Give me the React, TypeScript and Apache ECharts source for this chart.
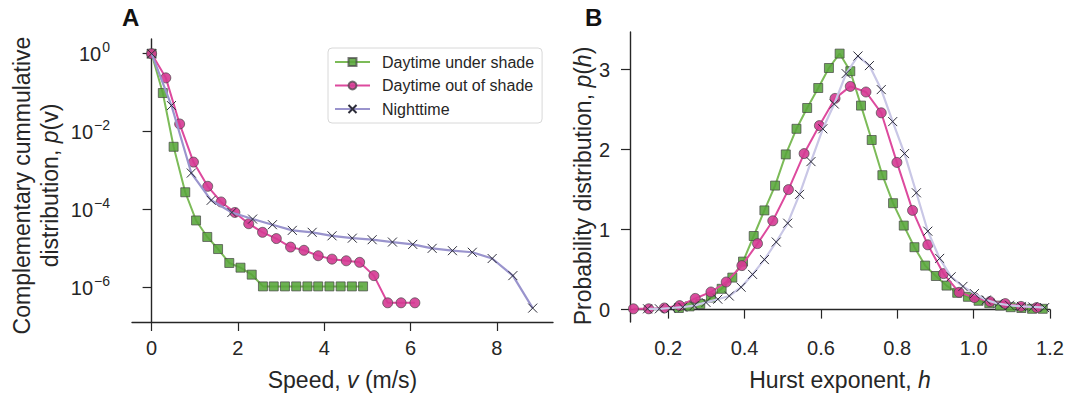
import React, { useEffect, useRef } from 'react';
import * as echarts from 'echarts';

// ---------- Panel A: complementary cumulative distribution of speed ----------
const speedShade = [0, 0.26, 0.51, 0.78, 1.03, 1.29, 1.54, 1.8, 2.06, 2.32, 2.58, 2.83, 3.09, 3.35, 3.61, 3.86, 4.12, 4.38, 4.64, 4.9];
const ccdfShade = [1, 0.098, 4.1e-3, 2.8e-4, 5.3e-5, 2.0e-5, 9.8e-6, 4.3e-6, 3.26e-6, 2.16e-6, 1.08e-6, 1.08e-6, 1.08e-6, 1.08e-6, 1.08e-6, 1.08e-6, 1.08e-6, 1.08e-6, 1.08e-6, 1.08e-6];

const speedSun = [0, 0.33, 0.65, 0.97, 1.3, 1.61, 1.93, 2.25, 2.57, 2.89, 3.22, 3.53, 3.86, 4.18, 4.51, 4.82, 5.15, 5.47, 5.78, 6.1];
const ccdfSun = [1, 0.24, 0.0158, 1.66e-3, 3.98e-4, 1.58e-4, 8.5e-5, 4.37e-5, 2.63e-5, 1.82e-5, 1.1e-5, 9.1e-6, 6.6e-6, 5.4e-6, 4.9e-6, 4.47e-6, 2.04e-6, 4.1e-7, 4.1e-7, 4.1e-7];

const speedNight = [0, 0.46, 0.92, 1.38, 1.86, 2.34, 2.8, 3.26, 3.72, 4.18, 4.65, 5.11, 5.58, 6.05, 6.5, 6.97, 7.43, 7.89, 8.37, 8.83];
const ccdfNight = [1, 0.0468, 8.7e-4, 1.74e-4, 8.5e-5, 5.75e-5, 4.12e-5, 2.95e-5, 2.63e-5, 2.14e-5, 1.86e-5, 1.7e-5, 1.48e-5, 1.29e-5, 1.02e-5, 8.9e-6, 8.1e-6, 5.6e-6, 2.04e-6, 3.0e-7];

// ---------- Panel B: distribution of Hurst exponent ----------
const hurstShade = [0.228, 0.256, 0.284, 0.312, 0.34, 0.368, 0.396, 0.424, 0.452, 0.48, 0.508, 0.536, 0.564, 0.593, 0.621, 0.649, 0.677, 0.705, 0.733, 0.761, 0.789, 0.817, 0.845, 0.873, 0.901, 0.929, 0.957, 0.985, 1.013, 1.041, 1.069, 1.097, 1.125, 1.153, 1.181];
const pdfShade = [0.02, 0.04, 0.07, 0.15, 0.26, 0.4, 0.6, 0.92, 1.24, 1.55, 1.94, 2.26, 2.52, 2.77, 3.02, 3.2, 2.98, 2.55, 2.12, 1.68, 1.33, 1.05, 0.78, 0.55, 0.42, 0.3, 0.21, 0.16, 0.11, 0.08, 0.05, 0.03, 0.02, 0.01, 0.01];

const hurstSun = [0.109, 0.149, 0.19, 0.23, 0.271, 0.312, 0.352, 0.393, 0.434, 0.474, 0.515, 0.556, 0.596, 0.637, 0.677, 0.718, 0.758, 0.799, 0.84, 0.88, 0.921, 0.962, 1.002, 1.043, 1.083, 1.124, 1.165];
const pdfSun = [0.01, 0.01, 0.02, 0.05, 0.14, 0.22, 0.345, 0.55, 0.825, 1.11, 1.5, 1.95, 2.3, 2.64, 2.79, 2.72, 2.46, 1.84, 1.24, 0.81, 0.45, 0.216, 0.15, 0.1, 0.075, 0.04, 0.025];

const hurstNight = [0.146, 0.177, 0.207, 0.238, 0.268, 0.299, 0.33, 0.36, 0.391, 0.421, 0.452, 0.483, 0.513, 0.544, 0.574, 0.605, 0.635, 0.666, 0.697, 0.727, 0.758, 0.788, 0.819, 0.85, 0.88, 0.911, 0.941, 0.972, 1.002, 1.033, 1.064, 1.094, 1.125, 1.155, 1.186];
const pdfNight = [0.01, 0.01, 0.02, 0.03, 0.05, 0.09, 0.13, 0.17, 0.28, 0.44, 0.625, 0.845, 1.08, 1.44, 1.85, 2.26, 2.57, 2.95, 3.17, 3.05, 2.75, 2.35, 1.95, 1.46, 0.98, 0.64, 0.41, 0.29, 0.2, 0.12, 0.075, 0.054, 0.04, 0.033, 0.025];

const seriesNames = ['Daytime under shade', 'Daytime out of shade', 'Nighttime'];
const logTicks = [1e-6, 1e-4, 1e-2, 1];
const speedTicks = [0, 2, 4, 6, 8];
const probTicks = [0, 1, 2, 3];
const hurstTicks = [0.2, 0.4, 0.6, 0.8, 1.0, 1.2];

const FONT = '"Liberation Sans", Arial, Helvetica, sans-serif';
const INK = '#262626';
const GREEN_LINE = '#7cbb58';
const GREEN_FILL = 'rgba(88,165,58,0.88)';
const PINK_LINE = '#dd4a9e';
const PINK_FILL = 'rgba(212,58,146,0.9)';
const PURPLE_LINE_A = '#9a94cd';
const PURPLE_LINE_B = '#c9c7e6';
const X_SYMBOL = 'path://M0,0L10,10M10,0L0,10';

const zip = (xs: number[], ys: number[]) => xs.map((x, i) => [x, ys[i]]);

export default function App() {
  const ref = useRef<HTMLDivElement>(null);
  useEffect(() => {
    if (!ref.current) return;
    const chart = echarts.init(ref.current, null, { renderer: 'svg' });

    const axisLine = { show: true, lineStyle: { color: INK, width: 1.4 } };
    const tickStyle = { color: INK, width: 1.2 };
    const labelRich = {
      b: { fontSize: 20, fontFamily: FONT, color: INK },
      s: { fontSize: 14, fontFamily: FONT, color: INK, padding: [0, 0, 14, 1] },
    };
    const NAME_SIZE = 23;
    const italic = { fontSize: NAME_SIZE, fontFamily: FONT, color: INK, fontStyle: 'italic' };

    const squareItem = { color: GREEN_FILL, borderColor: 'rgba(70,70,70,0.7)', borderWidth: 1 };
    const circleItem = { color: PINK_FILL, borderColor: 'rgba(70,70,70,0.7)', borderWidth: 1 };
    const crossItem = { color: 'rgba(0,0,0,0)', borderColor: '#2d2d3a', borderWidth: 1 };

    const option: any = {
      animation: false,
      backgroundColor: '#ffffff',
      textStyle: { fontFamily: FONT },
      grid: [
        { left: 132, top: 39, width: 421, height: 283 },
        { left: 630, top: 32, width: 420, height: 290 },
      ],
      legend: {
        data: seriesNames,
        orient: 'vertical',
        left: 328,
        top: 48,
        padding: [6, 8, 6, 6],
        itemGap: 7.5,
        itemWidth: 35,
        itemHeight: 10,
        borderColor: '#d8d8d8',
        borderWidth: 1,
        borderRadius: 4,
        textStyle: { fontSize: 16, fontFamily: FONT, color: INK, padding: [0, 0, 0, 7] },
      },
      graphic: [
        { type: 'text', left: 122, top: 5, style: { text: 'A', fontSize: 24, fontWeight: 'bold', fontFamily: FONT, fill: '#111' } },
        { type: 'text', left: 585, top: 5, style: { text: 'B', fontSize: 24, fontWeight: 'bold', fontFamily: FONT, fill: '#111' } },
      ],
      xAxis: [
        {
          type: 'value', gridIndex: 0, min: -0.454, max: 9.3,
          name: 'Speed, {i|v} (m/s)', nameLocation: 'middle', nameGap: 46,
          nameTextStyle: { fontSize: NAME_SIZE, fontFamily: FONT, color: INK, rich: { i: italic } },
          axisLine,
          axisTick: { show: true, length: 9, lineStyle: tickStyle, customValues: speedTicks },
          axisLabel: { fontSize: 20, color: INK, margin: 16, fontFamily: FONT, customValues: speedTicks },
          splitLine: { show: false },
        },
        {
          type: 'value', gridIndex: 1, min: 0.1, max: 1.2,
          name: 'Hurst exponent, {i|h}', nameLocation: 'middle', nameGap: 46,
          nameTextStyle: { fontSize: NAME_SIZE, fontFamily: FONT, color: INK, rich: { i: italic } },
          axisLine,
          axisTick: { show: true, length: 9, lineStyle: tickStyle, customValues: hurstTicks },
          axisLabel: {
            fontSize: 20, color: INK, margin: 16, fontFamily: FONT, customValues: hurstTicks,
            formatter: (v: number) => v.toFixed(1),
          },
          splitLine: { show: false },
        },
      ],
      yAxis: [
        {
          type: 'log', gridIndex: 0, logBase: 10, min: 1.32e-7, max: 2.38,
          name: 'Complementary cummulative\ndistribution, {i|p}(v)', nameLocation: 'middle', nameGap: 68, nameRotate: 90,
          nameTextStyle: {
            fontSize: NAME_SIZE, fontFamily: FONT, color: INK, lineHeight: 28, padding: [0, 10, 0, 0],
            rich: { i: { ...italic, lineHeight: 28 } },
          },
          axisLine,
          axisTick: { show: true, length: 9, lineStyle: tickStyle, customValues: logTicks },
          axisLabel: {
            margin: 22, customValues: logTicks, rich: labelRich,
            formatter: (v: number) => {
              const e = Math.round(Math.log10(v));
              return '{b|10}{s|' + (e < 0 ? '\u2212' + Math.abs(e) : String(e)) + '}';
            },
          },
          splitLine: { show: false },
        },
        {
          type: 'value', gridIndex: 1, min: -0.155, max: 3.47,
          name: 'Probability distribution, {i|p}({i|h})', nameLocation: 'middle', nameGap: 36, nameRotate: 90,
          nameTextStyle: { fontSize: NAME_SIZE, fontFamily: FONT, color: INK, padding: [0, 18, 0, 0], rich: { i: italic } },
          axisLine,
          axisTick: { show: true, length: 9, lineStyle: tickStyle, customValues: probTicks },
          axisLabel: { fontSize: 20, color: INK, margin: 20, fontFamily: FONT, customValues: probTicks },
          splitLine: { show: false },
        },
      ],
      series: [
        {
          name: seriesNames[0], type: 'line', xAxisIndex: 0, yAxisIndex: 0, data: zip(speedShade, ccdfShade),
          symbol: 'rect', symbolSize: 9, lineStyle: { color: GREEN_LINE, width: 2 }, itemStyle: squareItem, z: 2,
        },
        {
          name: seriesNames[1], type: 'line', xAxisIndex: 0, yAxisIndex: 0, data: zip(speedSun, ccdfSun),
          symbol: 'circle', symbolSize: 10, lineStyle: { color: PINK_LINE, width: 2 }, itemStyle: circleItem, z: 3,
        },
        {
          name: seriesNames[2], type: 'line', xAxisIndex: 0, yAxisIndex: 0, data: zip(speedNight, ccdfNight),
          symbol: X_SYMBOL, symbolSize: 9, lineStyle: { color: PURPLE_LINE_A, width: 2.2 }, itemStyle: crossItem, z: 4,
        },
        {
          name: seriesNames[0], type: 'line', xAxisIndex: 1, yAxisIndex: 1, data: zip(hurstShade, pdfShade),
          symbol: 'rect', symbolSize: 9, lineStyle: { color: GREEN_LINE, width: 2 }, itemStyle: squareItem, z: 2,
        },
        {
          name: seriesNames[1], type: 'line', xAxisIndex: 1, yAxisIndex: 1, data: zip(hurstSun, pdfSun),
          symbol: 'circle', symbolSize: 10, lineStyle: { color: PINK_LINE, width: 2 }, itemStyle: circleItem, z: 3,
        },
        {
          name: seriesNames[2], type: 'line', xAxisIndex: 1, yAxisIndex: 1, data: zip(hurstNight, pdfNight),
          symbol: X_SYMBOL, symbolSize: 9, lineStyle: { color: PURPLE_LINE_B, width: 2.2 }, itemStyle: crossItem, z: 4,
        },
      ],
    };
    chart.setOption(option);
    return () => chart.dispose();
  }, []);
  return <div ref={ref} style={{ position: 'fixed', left: 0, top: 0, width: 1070, height: 401 }} />;
}
